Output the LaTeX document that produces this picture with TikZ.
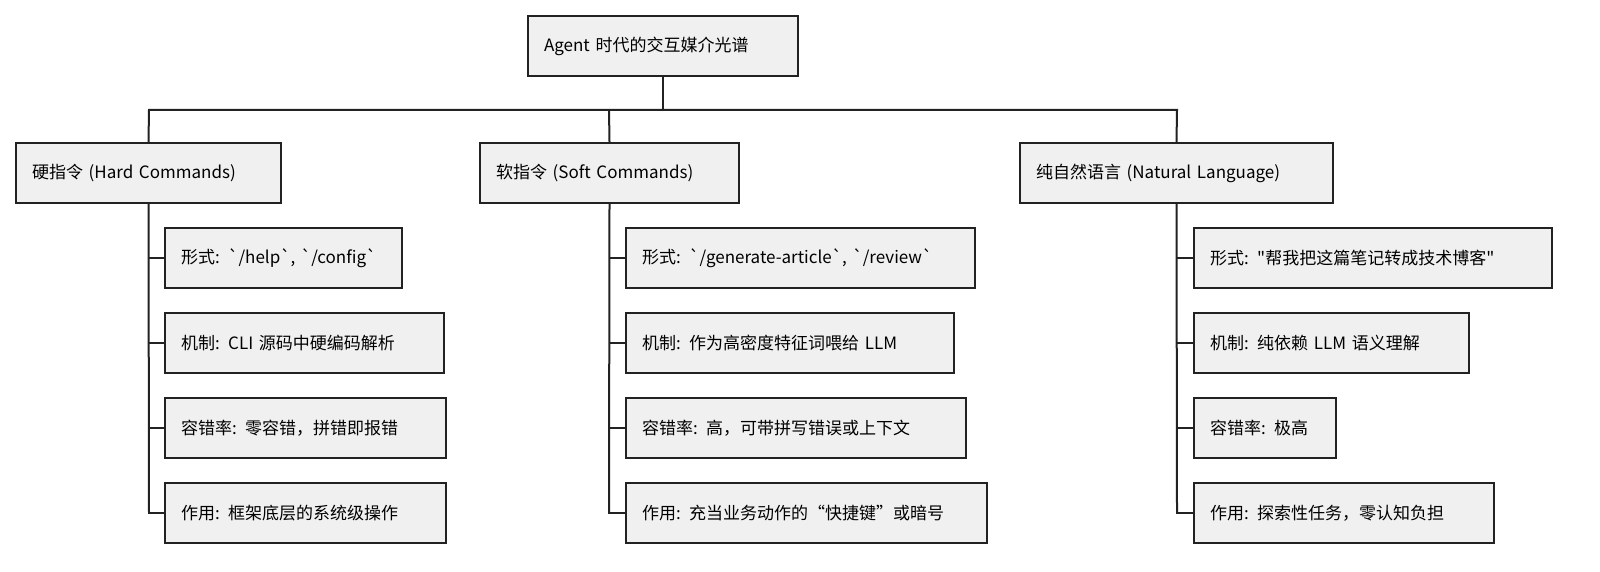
\documentclass[tikz,border=0pt]{standalone}
\usepackage{fontspec}
\newfontfamily\cjk{Noto Sans CJK SC}
\definecolor{bx}{HTML}{F0F0F0}
\definecolor{ln}{HTML}{222222}
\begin{document}
\begin{tikzpicture}[x=1pt,y=-1pt,
  box/.style={draw=ln,fill=bx,line width=2pt,minimum height=60pt,inner xsep=16pt,inner ysep=0pt,align=left,font=\cjk\fontsize{17}{20}\selectfont,text=black},
  con/.style={draw=ln,line width=2pt}]
\useasboundingbox (0,0) rectangle (1600,572);
\newcommand\bx[5]{\node[box,text width={#4-#2-32 pt}] (#1) at ({(#2+#4)/2},{#3+30}) {#5};}
\bx{root}{528}{16}{798}{Agent 时代的交互媒介光谱}
\bx{h}{16}{143}{281}{硬指令 (Hard Commands)}
\bx{s}{480}{143}{739}{软指令 (Soft Commands)}
\bx{n}{1020}{143}{1333}{纯自然语言 (Natural Language)}
\bx{h1}{165}{228}{402}{形式: `/help`, `/config`}
\bx{h2}{165}{313}{444}{机制: CLI 源码中硬编码解析}
\bx{h3}{165}{398}{446}{容错率: 零容错，拼错即报错}
\bx{h4}{165}{483}{446}{作用: 框架底层的系统级操作}
\bx{s1}{626}{228}{975}{形式: `/generate-article`, `/review`}
\bx{s2}{626}{313}{954}{机制: 作为高密度特征词喂给 LLM}
\bx{s3}{626}{398}{966}{容错率: 高，可带拼写错误或上下文}
\bx{s4}{626}{483}{987}{作用: 充当业务动作的“快捷键”或暗号}
\bx{n1}{1194}{228}{1552}{形式: "帮我把这篇笔记转成技术博客"}
\bx{n2}{1194}{313}{1469}{机制: 纯依赖 LLM 语义理解}
\bx{n3}{1194}{398}{1336}{容错率: 极高}
\bx{n4}{1194}{483}{1494}{作用: 探索性任务，零认知负担}
\coordinate (jr) at (663,110);
\draw[con] (root.south) -- (jr);
\draw[con] (h.north) -- (149,110) -- (1177,110) -- (n.north);
\draw[con] (s.north) -- (609,110);
\foreach \p/\x in {h/149,s/609,n/1177}{
  \draw[con] (\p.south) -- (\x,513);
  \foreach \i in {1,2,3}{\draw[con] (\x,{228+30+85*(\i-1)}) -- (\p\i.west);}
  \draw[con] (\x,512) -- (\x,513) -- (\p4.west);
}
\end{tikzpicture}
\end{document}
